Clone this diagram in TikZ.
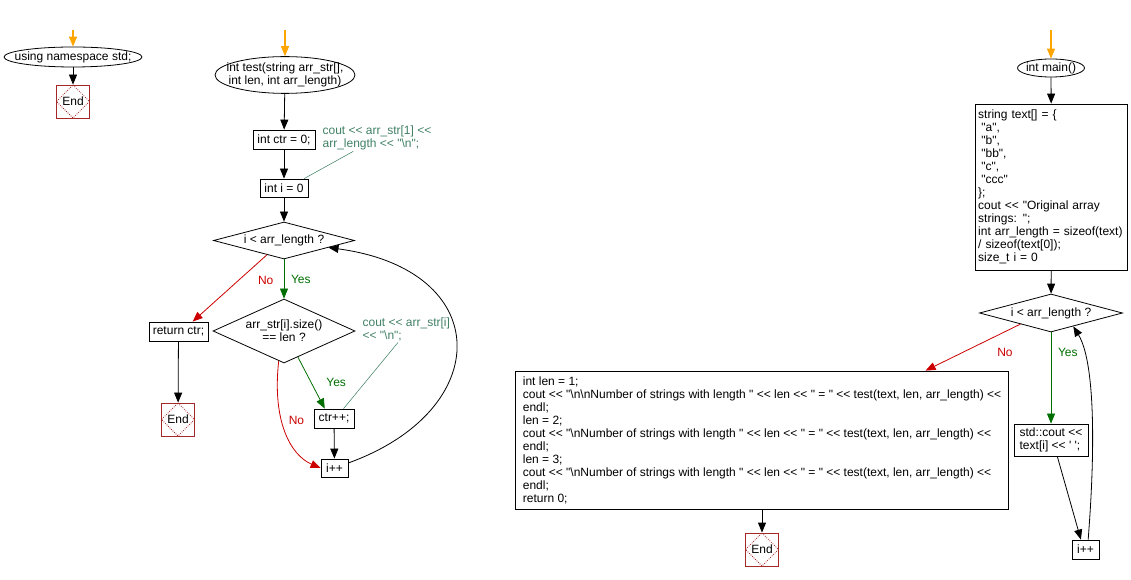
\documentclass[tikz,border=0pt]{standalone}
\usepackage{fontspec}
\setmainfont{Liberation Sans}[Ligatures=TeXOff]
\usepackage{tikz}
\usetikzlibrary{arrows.meta,shapes.geometric,positioning}

\definecolor{startorange}{RGB}{255,165,0}
\definecolor{yesgreen}{RGB}{0,110,0}
\definecolor{nored}{RGB}{204,0,0}
\definecolor{notegreen}{RGB}{64,128,100}
\definecolor{endred}{RGB}{165,40,40}

\begin{document}
\begin{tikzpicture}[
x=0.75pt, y=-0.75pt,
font=\fontsize{9}{9.75}\selectfont,
startnode/.style={draw, ellipse, inner sep=0pt, align=center, line width=0.6pt},
procbox/.style={draw, rectangle, inner sep=2pt, align=left, line width=0.6pt},
decision/.style={draw, diamond, inner sep=0pt, align=center, line width=0.6pt},
endbox/.style={draw=endred, minimum size=24.75pt, inner sep=0pt, line width=0.6pt,
  path picture={\draw[endred, densely dotted, line width=0.6pt] (path picture bounding box.north) -- (path picture bounding box.east) -- (path picture bounding box.south) -- (path picture bounding box.west) -- cycle;}},
note/.style={text=notegreen, align=left, inner sep=1pt},
arrowlabel/.style={inner sep=1pt},
arrow/.style={-{Triangle[length=7.5pt,width=6pt]}, line width=0.6pt},
yesarrow/.style={arrow, draw=yesgreen},
noarrow/.style={arrow, draw=nored},
startarrow/.style={arrow, draw=startorange, line width=0.9pt},
noteline/.style={draw=notegreen, line width=0.4pt}
]

\useasboundingbox (0,0) rectangle (1131,580);

\coordinate (topA) at (73,30);

\node[startnode, minimum width=103.5pt, minimum height=15pt](startA) at (73,57) {\makebox[0pt]{using namespace std;}};

\node[endbox](endA) at (73,101.5) {End};

\coordinate (topB) at (285,30);

\node[startnode, minimum width=105pt, minimum height=27pt](startB) at (285,75) {\makebox[0pt]{\begin{tabular}{@{}c@{}}int test(string arr\_str[],\\int len, int arr\_length)\end{tabular}}};

\node[procbox, minimum width=46.5pt, minimum height=14.25pt](ctrB) at (284,139.5) {int ctr = 0;};

\node[note, anchor=north west](noteA) at (321,124) {cout << arr\_str[1] <<\\arr\_length << "\textbackslash n";};

\node[procbox, minimum width=36pt, minimum height=13.5pt](iB) at (284,188) {int i = 0};

\node[decision, minimum width=105.75pt, minimum height=27.75pt, aspect=4](condB) at (284,240.5) {i < arr\_length ?};

\node[decision, minimum width=106.5pt, minimum height=48pt, aspect=2.2](sizeB) at (284,331) {arr\_str[i].size()\\== len ?};

\node[procbox, minimum width=44.25pt, minimum height=14.25pt](retB) at (178.5,331.5) {return ctr;};

\node[endbox](endB) at (178,419.5) {End};

\node[note, anchor=north west](noteB) at (361,316) {cout << arr\_str[i]\\<< "\textbackslash n";};

\node[procbox, minimum width=30pt, minimum height=14.25pt](ctrincB) at (334,418.5) {ctr++;};

\node[procbox, minimum width=20.25pt, minimum height=13.5pt](incB) at (334.5,468) {i++};

\coordinate (topC) at (1051,30);

\node[startnode, minimum width=50.25pt, minimum height=13.5pt](startC) at (1051,68) {\makebox[0pt]{int main()}};

\node[procbox, text width=110pt, minimum height=124.5pt](initC) at (1051.5,187) {string text[] = \{\\\hspace*{2.4pt}"a",\\\hspace*{2.4pt}"b",\\\hspace*{2.4pt}"bb",\\\hspace*{2.4pt}"c",\\\hspace*{2.4pt}"ccc"\\\};\\cout << "Original array\\strings: ";\\int arr\_length = sizeof(text)\\/ sizeof(text[0]);\\size\_t i = 0};

\node[decision, minimum width=107.25pt, minimum height=28.5pt, aspect=4](condC) at (1051,313) {i < arr\_length ?};

\node[procbox, minimum width=55.5pt, minimum height=24pt](printC) at (1051,440) {std::cout <<\\text[i] << ' ';};

\node[procbox, minimum width=20.25pt, minimum height=14.25pt](incC) at (1085.5,549.5) {i++};

\node[procbox, minimum width=369.75pt, minimum height=103.5pt](outC) at (762,440) {int len = 1;\\cout << "\textbackslash n\textbackslash nNumber of strings with length " << len << " = " << test(text, len, arr\_length) <<\\endl;\\len = 2;\\cout << "\textbackslash nNumber of strings with length " << len << " = " << test(text, len, arr\_length) <<\\endl;\\len = 3;\\cout << "\textbackslash nNumber of strings with length " << len << " = " << test(text, len, arr\_length) <<\\endl;\\return 0;};

\node[endbox](endC) at (762,549.5) {End};

\draw[startarrow] (topA) -- (startA);

\draw[arrow] (startA) -- (endA);

\draw[startarrow] (topB) -- (startB);

\draw[arrow] (startB) -- (ctrB);

\draw[arrow] (ctrB) -- (iB);

\draw[noteline] (noteA.210) -- (iB.25);

\draw[arrow] (iB) -- (condB);

\draw[yesarrow] (condB) -- node[right=4pt, arrowlabel, text=yesgreen] {Yes} (sizeB);

\draw[noarrow] (condB.220) -- node[pos=0.25, below right=2pt and 6pt, arrowlabel, text=nored] {No} (retB.35);

\draw[arrow] (retB) -- (endB);

\draw[yesarrow] (sizeB.-62) -- node[right=10pt, arrowlabel, text=yesgreen] {Yes} (ctrincB.133);

\draw[noarrow] (sizeB.-100) .. controls (272,420) and (290,455) .. node[pos=0.4, right=4pt, arrowlabel, text=nored] {No} (incB.west);

\draw[noteline] (noteB.238) -- (ctrincB.46);

\draw[arrow] (ctrincB) -- (incB);

\draw[arrow] (incB.20) .. controls (495,410) and (495,270) .. (condB.-9);

\draw[startarrow] (topC) -- (startC);

\draw[arrow] (startC) -- (initC);

\draw[arrow] (initC) -- (condC);

\draw[yesarrow] (condC) -- node[pos=0.22, right=4pt, arrowlabel, text=yesgreen] {Yes} (printC);

\draw[noarrow] (condC.200) -- node[pos=0.22, below right=9pt and -3pt, arrowlabel, text=nored] {No} (outC.23.4);

\draw[arrow] (printC.-69) -- (incC.115);

\draw[arrow] (incC.75) .. controls (1096,440) and (1094,360) .. (condC.-31);

\draw[arrow] (outC) -- (endC);

\end{tikzpicture}
\end{document}
